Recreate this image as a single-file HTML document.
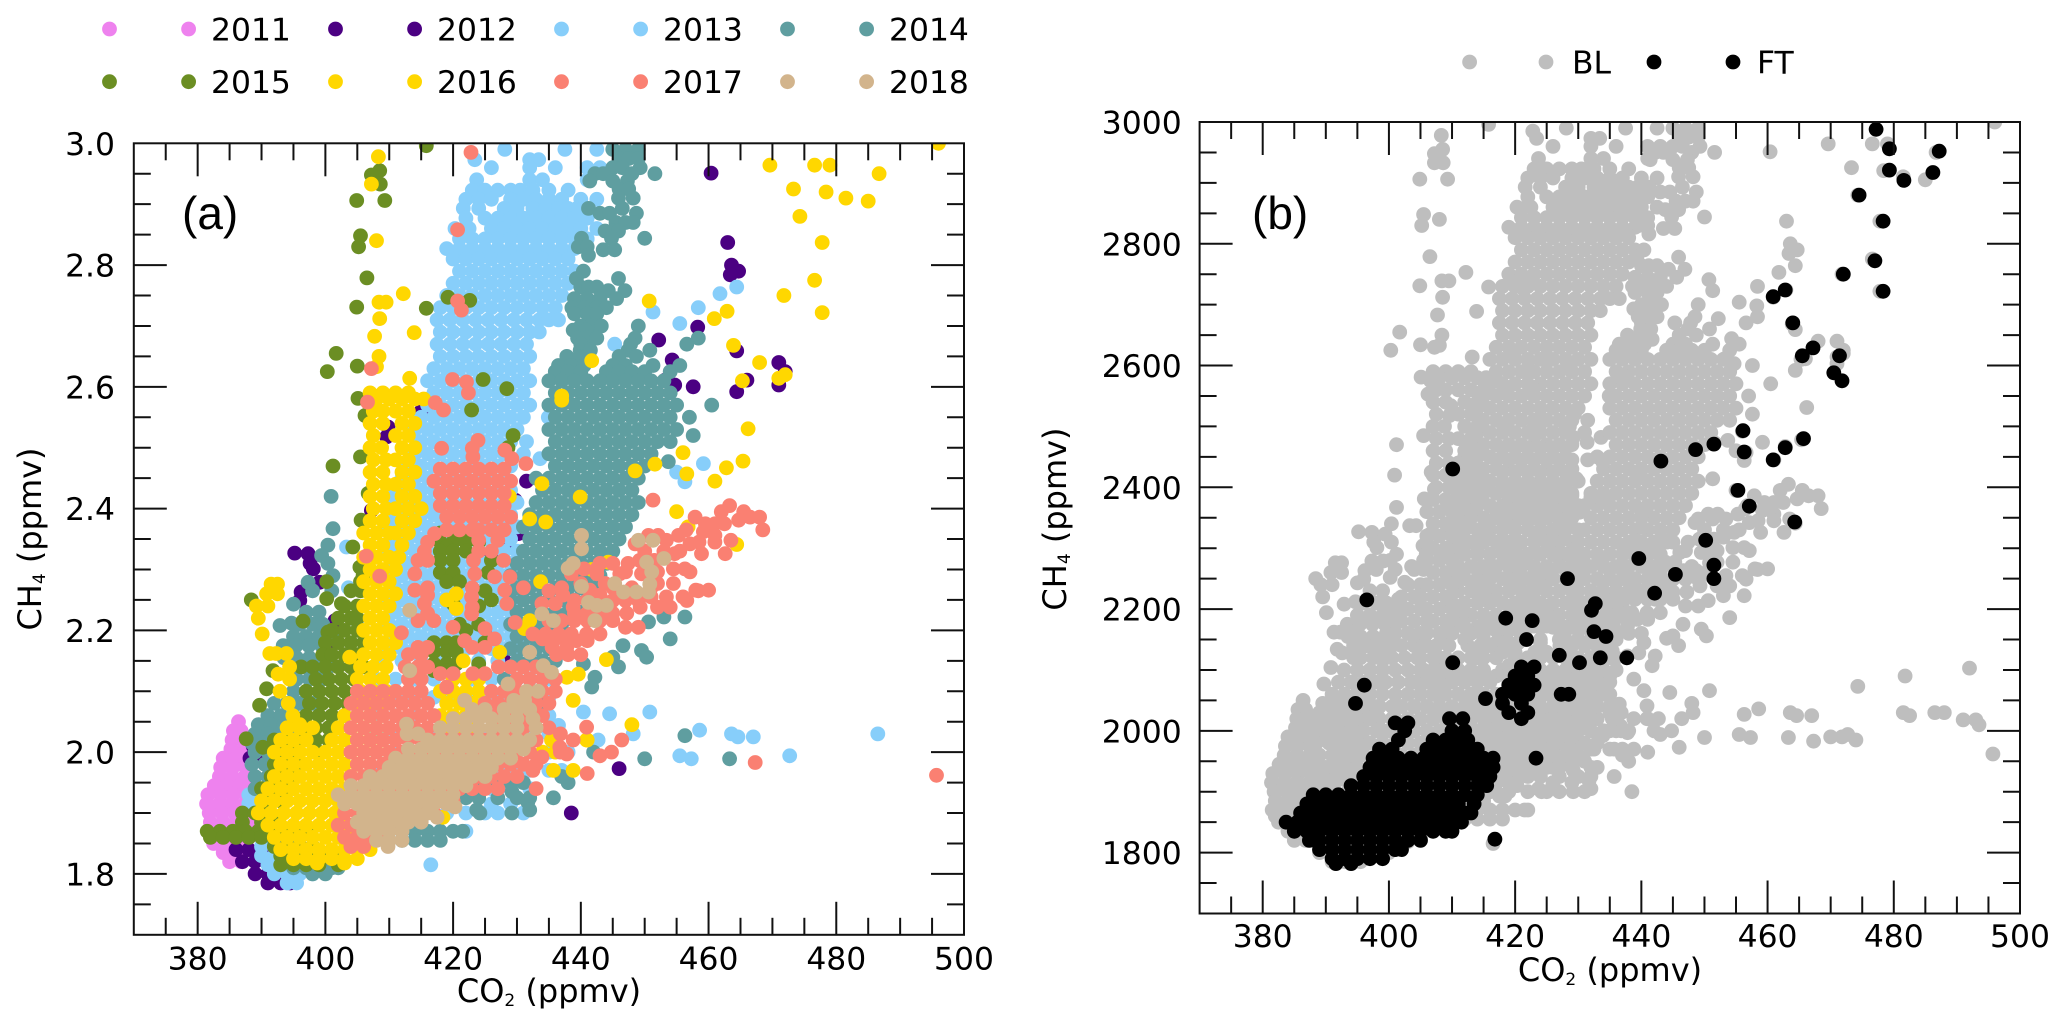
<!DOCTYPE html>
<html lang="en">
<head>
<meta charset="utf-8">
<title>CH4 versus CO2 scatter plots</title>
<style>
html,body{margin:0;padding:0;background:#fff;}
svg{display:block;}
text{font-family:"DejaVu Sans","Liberation Sans",sans-serif;fill:#000;}
</style>
</head>
<body>
<svg id="figure" xmlns="http://www.w3.org/2000/svg" width="2067" height="1029" viewBox="0 0 2067 1029">
<defs>
<clipPath id="clip-a"><rect x="133.8" y="143.3" width="830.2" height="791.5"/></clipPath>
<clipPath id="clip-b"><rect x="1199.6" y="122" width="820.4" height="791.5"/></clipPath>
</defs>
</svg>
<script>
// Each row is [CH4 in ppbv, CO2 in ppmv, CO2 in ppmv, ...]
const years = ['2011','2012','2013','2014','2015','2016','2017','2018'];
const yearColors = ['#EE82EE','#4B0082','#87CEFA','#5F9EA0','#6B8E23','#FFD700','#FA8072','#D2B48C'];
const xTicks = [380,400,420,440,460,480,500];
const yTicksA = ['1.8','2.0','2.2','2.4','2.6','2.8','3.0'];
const yTicksB = ['1800','2000','2200','2400','2600','2800','3000'];

const s2011 = [[2050,386.4],[2035,385.6,386.8],[2020,385.4,387],[2005,385.2,387.2],[1990,384,386,387.5],[1975,383.6,385.5,387.5],[1960,383.4,385.4,387.4],[1945,382.6,384.6,386.6,388.4],[1930,381.6,383.6,385.6,387.6,389],[1915,381.4,383.4,385.4,387.4,389],[1900,381.8,383.8,385.8,387.8],[1885,382,384,386,388],[1870,382.5,384.5,386.5],[1850,382.5,384.5,386.5],[1835,384,386],[1820,385,386.8]];

const s2012 = [[2951,460.4],[2837,463],[2800,463.6],[2790,464.7],[2784,463.4],[2698,458.3],[2677,452.2],[2659,464.4],[2644,454.3],[2640,471],[2625,472],[2611,453.2,466],[2603,454.7,471],[2600,457.6],[2592,464.4],[2560,415],[2534,409.8],[2518,409.6],[2445,431.5],[2414,429.7],[2397,407.2],[2359,430.2],[2337,428.4],[2327,395.2],[2326,397.3,426],[2310,397.6,417.4],[2301,398.1],[2279,399.1],[2263,396.2],[2249,396],[2216,401.5],[2200,399.6,425],[2180,401,420],[2150,428],[2120,432],[2090,427],[2030,389.4],[2010,388.7,390],[1990,388.2,390],[1973,446],[1900,438.5],[1860,386,388,390],[1840,386,388,390,392],[1820,387,389,391,393],[1800,389,391,393,395],[1785,391,393,394.5]];

const s2013 = [[2990,428.1,437.5,442.5],[2973,423.4,432,433.4],[2960,426,432,436,441,443],[2940,423.7,432,434,441],[2923,423,425,427,429,430.5,432.5,435,438],[2908,422,424,426,429,431,433,435,437,440,442.5],[2893,421.6,424,428,430,432.5,434.5,436.5,438,439.4,440.4],[2877,422,425,427,429,431,433,435,437,439,441],[2860,420.3,422.5,426,428,430,432,434,436,438,440,442.5],[2843,421,423,425,427,429,431,433,435,437,439,441],[2827,419,421,423,425,427,429,431,433,435,437,439],
[2810,420,422,424,426,428,430,432,434,436,438],[2790,421,423,425,427,429,431,433,435,437,439],[2770,420,422,424,426,428,430,432,434,436,438],[2764,464.4],[2753,461.8],[2750,419,421,423,425,427,429,431,433,435,437],[2730,418,420,422,424,426,428,430,432,434,436,458.4],[2723,451.3],[2710,417.5,419.5,421.5,423.5,425.5,427.5,429.5,431.5,433.5,435,436.5],[2704,455.5],[2690,418,420,422,424,426,428,430,432,433.5],[2670,417.5,419.5,421.5,423.5,425.5,427.5,429.5,431.5,445.3],[2650,418,420,422,424,426,428,430,432],[2630,417,419,421,423,425,427,429,431],[2610,416,418,420,422,424,426,428,430,432],[2590,417,419,421,423,425,427,429,431],[2570,416,418,420,422,424,426,428,430,432],[2550,415,417,419,421,423,425,427,429,431,434.9],[2530,414,416,418,420,422,424,426,428,430],[2510,415,417,419,421,423,425,427,429,431.5],[2490,414,416,418,420,422,424,426,428,431],[2482,433.6],[2474,459.2],[2470,413,415,417,419,421,423,425,427,429],[2460,455],[2450,412,414,416,418,420,422,424,426,428],[2444,456.3],[2430,411,413,415,417,419,421,423,425,427,429],[2410,410,412,414,416,418,420,422,424,426,428,430],[2390,411,413,415,417,419,421,423,425,427,429],[2370,410,412,414,416,418,420,422,424,426,428,430],[2350,411,413,415,417,419,421,423,425,427,429],[2337,403.3],[2330,410,412,414,416,418,420,422,424,426,428,430],[2310,411,413,415,417,419,421,423,425,427,429],[2290,410,412,414,416,418,420,422,424,426,428,430],[2270,403.6,411,413,415,417,419,421,423,425,427,429],[2250,410,412,414,416,418,420,422,424,426,428,430],[2230,411,413,415,417,419,421,423,425,427,429],[2216,404.9],[2210,410,412,414,416,418,420,422,424,426,428,430],[2190,411,413,415,417,419,421,423,425,427,429,431],[2175,399.4],[2170,410,412,414,416,418,420,422,424,426,428,430,432],[2150,409,412,415,418,421,424,427,430,433],[2120,408,411,414,417,420,423,426,429,432,435],[2090,408,411,414,417,420,423,426,429,432,435],[2066,440.4,450.8],[2063,444.5],[2060,408,411,414,417,420,423,426,429,432,435],[2044,436.5],[2036,458.6],[2030,408,411,414,417,420,423,426,429,432,435,448.2,486.5,463.6],[2025,464.6,467],[2020,442.7],[2000,408,411,414,417,420,423,426,429,432,435,438],[1994,455.5,472.7],[1989,457.3],[1970,408,411,414,417,420,423,426,429,432,435,437],[1940,408,411,414,417,420,423,426,429,432],[1930,388,390],[1915,388,390,426,429],[1900,410,413,416,419,422,425,427,431],[1870,410,414,418,422],[1845,390,392,394,396],[1830,390,392,394,396,398],[1815,391,393,395,397,399,416.5],[1800,392,394,396,398],[1785,394,395.5]];

const s2014 = [[2990,445,447,449],[2975,446,447.5,449],[2960,445,446.5,449.3],[2950,442.2,443.5,448,451.6],[2938,441.4,445,447.3],[2925,446,447.5],[2910,445.9,448.2],[2893,441.2,446.5],[2885,443,444.5,448.7],[2870,445.5,447,448.2],[2856,443.8,445,445.9],[2844,440.1,444.8,450],[2830,439.6,441],[2825,443.5,445.3],[2816,441.2],[2790,440.4],[2778,439.3,445.9],[2764,440,441.2,442.5],[2758,444.3,446.9],[2745,439,441,443,445.6],[2730,438.6,440.6,442.5,444],[2720,439,441,442.5],[2700,440,441.5,443.2,449],[2693,438.8,440.8],[2680,439.5,441,442.5,448.5,458.4],[2670,440,447.8,456.6],[2660,439.9,441.5,447.4,450.8],[2650,437.8,439.8,446,448.7],[2635,436.5,438.5,440.5,445,447,451.3,455.5],[2625,436,438,440,444,446,448,450,454],[2610,435,437,439,441,443,445,447,449,451,453],[2590,436,438,440,442,444,446,448,450,452,454],[2570,435,437,439,441,443,445,447,449,451,453,455,460.5],[2550,436,438,440,442,444,446,448,450,452,454,457],[2530,435,437,439,441,443,445,447,449,451,453,455],[2520,457.6],[2510,436,438,440,442,444,446,448,450,452,454],[2490,435,437,439,441,443,445,447,449,451],[2477,453.7],[2470,436,438,440,442,444,446,448,450],[2450,433,435,437,439,441,443,445,447,449],[2430,434,436,438,440,442,444,446,448],[2420,400.9],[2410,433,435,437,439,441,443,445,447,449],[2390,432,434,436,438,440,442,444,446,448],[2370,431,433,435,437,439,441,443,445,447],[2367,401.2],[2350,432,434,436,438,440,442,444,446],[2340,400.4],[2330,431,433,435,437,439,441,443,445],[2323,399.4],[2310,400.4,430,432,434,436,438,440,442,444],[2290,401.2,429,431,433,435,437,439,441,443],[2279,397.3],[2270,430,432,434,436,438,440,442],[2265,398,401],[2250,429,431,433,435,437,439,441],[2243,395],[2230,397,399,430,432,434,436,438,440],[2222,456.3,453],[2214,450.6],[2212,394.7],[2208,392.9],[2210,396,398,399.6,429,431,433,435,437],[2190,395,397,399,401,430,432,434,436],[2186,454],[2175,393.4,395.4,397.4,399.4,446.6],[2170,429,431,433,435],[2167,449.5],[2156,450.3,445],[2155,393.5,395.5,397.5,399.5],[2150,430,432,434,436],[2145,440.4],[2140,394.5,396.5,398.5,400.5,445.9],[2123,442.2],[2120,395.5,397.5,399.5,428,430,432,434],[2107,441.7],[2100,395,397,399],[2080,392,394,396,398,433.9],[2060,391,393,395],[2045,389.5,391.5,393.5],[2030,389,391,393,395],[2027,456.3],[2015,388.5,390.5,392.5,394.5],[2000,442,389,391,393],[1989,463.3,450],[1980,388.5,390.5,392.5],[1960,389,391,393,437],[1950,424,426,429,431,438],[1940,389,391,393],[1935,429.2],[1925,427,430,432,424,435.7,422],[1918,431.7],[1905,423.7,432],[1900,424.2,429.2],[1870,412,414,416,418,420,421.5,396],[1855,412,414,416,418,392,394],[1840,393,395,397],[1825,394,396,398,400,402],[1810,395,397,399,401,402],[1800,398,400]];

const s2015 = [[2996,415.8],[2955,408.5],[2948,407.2],[2933,408.6],[2906,404.9,409.3],[2848,405.5],[2830,405.2],[2779,406.5],[2747,419.2],[2742,422.6],[2731,404.9],[2729,415.8],[2655,401.7],[2634,405],[2625,400.3],[2612,424.7],[2597,428.4],[2581,405.1],[2562,422.9],[2553,406.2],[2520,429.4],[2500,428.6],[2485,405.5],[2470,401.2],[2425,406.7],[2381,405.6],[2360,418,420,421.6],[2345,418,420,422,424],[2337,404.3,419],[2330,418,420,422],[2315,418,420,426],[2304,405.4],[2295,418,420,425.5],[2290,405.9],[2280,400.2,405.5,419,421],[2265,404,405.5,425],[2252,400.2],[2250,388.4,426],[2244,402.5,420],[2240,403,405,424],[2220,402,404,405],[2215,396.5],[2210,421,424],[2200,401,403,405,422],[2197,400.4],[2180,400,402,404,406,417,419,420.5,425],[2165,417,419,420.5],[2160,399.6,401,403,405],[2145,417,419,420.5,424],[2140,396.2,398,400,402,404,406,],[2134,391.8,417,419],[2120,398.5,400.5,402.5,404.5],[2104,390.8],[2100,397,399,401,403,405],[2080,397.5,399.5,401.5,403.5],[2077,389.7],[2060,397,399,401,403],[2040,396.5,398.5,400.5,402],[2022,387.6],[2020,392,394,396.5,398.5,400.5],[2008,390.2],[2000,393,395,399],[1980,392,394,396],[1960,391.5,393.5,395],[1940,390,391.5,393.5],[1920,391,393],[1900,387,389,391],[1885,387,390,392],[1870,381.5,383.5,385.5,387.5,389.5,391.5,393.5,395.5,397],[1860,382,384,386,388,390,392,394,396],[1845,392,394,396,398],[1830,393,395,397,399,401],[1815,393,395,397,399,402]];

const s2016 = [[3000,496],[2978,408.3],[2964,469.6,476.6,479],[2950,486.7],[2933,407.2],[2925,473.3],[2920,478.4],[2910,481.5],[2905,485],[2880,474.3],[2840,408],[2837,477.8],[2775,476.6],[2753,412.2],[2750,471.8],[2741,450.7],[2739,408.4,409.5],[2724,462.9],[2722,477.8],[2712,408.5,460.9],[2689,413.9],[2683,407.7],[2668,463.9],[2650,408.4],[2643,441.7],[2640,468],[2633,408],[2620,472],[2614,413.2,471],[2610,465.3],[2590,407,409,411,413],[2585,437],[2580,415.4,408,410,412,414],[2578,437],[2560,407.5,409,411,413],[2540,407,409,412,414],[2531,466.2],[2520,407.5,411,413],[2500,407,408.8,412,414],[2492,456],[2480,407.5,409.5,411,413],[2478,465.4],[2473,451.6],[2467,462.8],[2462,448.5],[2460,407,409,412,414],[2457,456.6],[2445,461],[2441,433.9],[2440,407.5,409.5,411,413],[2420,407,409,412,414,428.8],[2419,439.9],[2400,407.5,409.5,411,413,415],[2395,455],[2383,432],[2380,407,409,412,414],[2378,434.5],[2370,456.8],[2360,406,408,410,411,413],[2341,464.4],[2340,407,409,412],[2320,406,408,410,411.5],[2312,444.3],[2300,407,409,441.7,411],[2280,406,408,410,433.7],[2276,391.5,392.5],[2260,407,409,411,390.8,392.5,420.5],[2250,419],[2240,406,408,410,389.2,391],[2236,420.5],[2220,407,409,389.5],[2216,432],[2203,431.2],[2200,406,408,410],[2194,390.1],[2180,407,409,411],[2164,427.3],[2162,391.3,392.3,393.9],[2160,406,408,410],[2156,403.8],[2152,444],[2150,421.6],[2140,394.4,405.5,407.5,409.5],[2128,392.6,439.6],[2123,437.8],[2120,405,407,409,394.4,420,422,424],[2100,392.9,405.5,407.5,409.5,418,420,422,424],[2085,438.8],[2080,394.2,404.5,406.5,408.5,419,421,423],[2060,394.9,403,405,407,418,420,422,424],[2045,396,448],[2040,394,396,398,402,404,406,408,419,421,423],[2020,393,395,397,401,403,405,407,409,435.4,440.9,441],[2000,392,394,396,398,400,402,404,406,408,434,436],[1980,393,395,397,399,401,403,405],[1970,435.7,438.8],[1960,392,394,396,398,400,402,404],[1940,391,393,395,397,399,401,403],[1920,390,392,394,396,398,400,402],[1900,389.5,391.5,393.5,395.5,397.5,399.5,401.5],[1893,418.4],[1880,391,393,395,397,399,401,403],[1860,392,394,396,398,400,402,404,406,408],[1840,393,395,397,399,401,403,405,407],[1825,395,397,399,401,403,405],[1818,398.7,403]];

const s2017 = [[2985,422.8],[2858,420.7],[2741,420.7],[2726,421.3],[2630,407.2],[2612,419.9],[2608,422.1],[2590,422.4],[2575,406.6],[2574,417.2],[2562,418.5],[2512,423.9],[2499,418.2,423],[2496,428.1],[2485,423.1],[2482,429.2],[2474,431.4],[2465,418,420,422,424,426,428],[2445,417,419,421,423,425,427,429],[2425,418,420,422,424,426,428],[2414,451.3],[2405,418,420,422,424,426,428,463.3],[2395,462,465.5],[2386,419,421,423,425,427,429,457.9,466.5,468],[2381,464.7],[2375,461,462.5,459.5],[2365,419,421,423,424,426,428,456.5,468.5],[2362,459.2],[2359,417.1],[2356,450.6,452.1,455.3,461],[2348,453.4,424,427,463.5],[2345,461,416,449,458.5],[2342,448.5,457.1],[2330,415.5,450,453,426,424,455.5],[2326,458.9,462.6,454.7],[2322,406.4],[2315,423.2,416,414.5,427.9,449.2,451.5],[2310,445,447.4,443],[2301,456.3,454.5,442.5,440.5],[2296,457.1,447,452],[2293,442.5,423.4,414,446.1,449.5,438.5],[2289,408.5],[2288,426.5,428.9],[2277,443.8,454.5,440,452],[2270,431,416,445,451,423,437,448],[2266,441.4,428.1,414,458,460],[2265,458.4,435],[2258,437.2,416,443],[2255,453.4,456,451,422.9],[2249,456.6,445,447,449,443,441,439],[2244,433.9,428.4,436,415.5],[2238,438.8,449.3,452,454,423],[2228,447.2,445,443,441,439,416],[2227,422.9],[2216,445,443,441,439,437,435,417,414.5],[2213,429.7],[2205,420,447,449],[2203,425],[2194,432.5,434.5,436.5,438.5,440.9,443],[2196,411.9],[2186,426.5,434,436,438],[2183,421.8,439.3,441],[2172,423,425,437.8,435.5,414.5,416],[2160,413,415,436.2,438,440],[2140,427.1,429,431,433,412.5,414.5,416],[2129,418,420,423.1,425],[2120,430,432,434,436,413,415],[2107,419],[2100,405,407,409,411,413,415,426,428,430,432,434,436],[2080,404,406,408,410,412,414,416,425,427,429,431,433,435],[2060,405,407,409,411,413,415,417,424,426,428,430,432,434],[2041,440.9],[2040,404,406,408,410,412,414,416,418,427,429,431,433,435],[2030,436.8],[2020,405,407,409,411,413,415,417,419,421,423,425,427,429,431,433,446.4,438.8],[2008,436.7],[2000,404,406,408,410,412,414,416,418,420,422,424,426,428,430,432,444.8,436.8],[1997,437.8],[1994,443],[1992,433.9],[1983,467.3],[1980,405,407,409,411,413,415,417,419,421,423,425,427,429,431,433],[1970,432.5],[1965,441],[1962,495.7],[1960,404,406,408,410,412,414,416,418,420,422,424,426,428,430],[1940,405,407,409,411,413,415,417,419,421,423,425,427,433],[1920,404,406,408,410,412,414,416,418,420],[1900,403,405,407,409,411,413,415,417],[1880,402,404,406,408,410,412],[1860,403,405,407,409],[1845,404,406]];

const s2018 = [[2356,440.1],[2348,449,451.3],[2334,440.1],[2318,453],[2312,450.3],[2310,438.8],[2302,438],[2296,451.1],[2277,445.3],[2276,450.8],[2272,440.1],[2263,448.7,446.7,450.6],[2246,441.2],[2241,444,442.5],[2233,413.2],[2227,433.9],[2216,435.7,442.2],[2164,432],[2142,434.1],[2134,413.2],[2131,435.4],[2112,428.6],[2100,433.3,431.5],[2085,421.8,431.2,429.5],[2070,423,425,428,430,432],[2055,420,422,424,426,428,430,432.5],[2046,412.7],[2040,418,420,422,424,426,428,430,433],[2030,412.8,414.5],[2020,416,418,420,422,424,426,428,430,432],[2005,413,415,417,419,421,423,425,427,429,431],[1990,411,413,415,417,419,421,423,425,427,429],[1975,410,412,414,416,418,420,422,424,426],[1960,407,409,411,413,415,417,419,421,423,425],[1945,404,406,408,410,412,414,416,418,420,422],[1930,402,404,406,408,410,412,414,416,418,420],[1915,403,405,407,409,411,413,415,417,419],[1910,420.3],[1900,406,408,410,412,414,416],[1893,417.5],[1885,405,407,409,411,413,415],[1870,406,408,410,412],[1855,408,410,412],[1845,409.8]];

// Boundary-layer points only visible in panel (b)
const sBLextra = [[2103,492],[2090,481.8],[2073,474.3],[2030,481.5,488],[2025,482.5],[2018,491,493],[2010,493.5],[1990,470,471.8],[1985,474]];

const sFT = [[2988,477.2],[2956,479.3],[2952,487.2],[2921,479.3],[2917,486.2],[2904,481.6],[2880,474.5],[2837,478.3],[2772,477],[2750,472],[2724,462.8],[2722,478.3],[2713,460.9],[2670,464],[2629,467.2],[2616,465.5,471.4],[2588,470.5],[2575,471.8],[2493,456.1],[2480,465.7],[2471,451.5],[2465,462.8],[2462,448.6],[2458,456.3],[2445,460.9],[2443,443.1],[2430,410.1],[2395,455.3],[2369,457.1],[2343,464.3],[2313,450.2],[2283,439.6],[2272,451.5],[2257,445.4],[2250,428.3,451.5],[2226,442.1],[2215,396.5],[2209,432.7],[2198,432.1],[2185,418.5],[2181,422.7],[2163,432.5],[2155,434.4],[2150,421.8],[2124,427],[2120,433.5,437.7],[2112,410.1,430.2],[2105,421,423],[2090,420,422],[2075,396.1,419,421,423],[2060,418,420,422,427.3,428.5],[2053,415.3],[2045,394.7,418,421],[2030,419,422],[2020,409.6,411.7,421],[2013,401,403],[2000,402.5,410,412],[1985,401.5,407,409,411,412.5],[1970,398.5,400.5,406,408,410,412,414],[1955,397.5,399.5,401.5,403.5,405.5,407.5,409.5,411.5,413.5,415,416.5,423.3],[1940,397,399,401,403,405,407,409,411,413,415,416.5],[1925,396,398,400,402,404,406,408,410,412,414,416],[1910,394,396,398,400,402,404,406,408,410,412,414,415.5],[1895,388,390,392,394,396,398,400,402,404,406,408,410,412,414],[1880,387,389,391,393,395,397,399,401,403,405,407,409,411,413.5],[1865,386,388,390,392,394,396,398,400,402,404,406,408,410,412,413],[1850,383.7,385.5,387.5,389.5,391.5,393.5,395.5,397.5,399.5,401.5,403.5,405.5,407.5,409.5,411.5],[1835,385,387,389,391,393,395,397,399,401,403,405,407,409,410],[1822,416.8],[1820,387.4,389,391,393,395,397,399,401,403,405],[1805,389,391,393,395,397,399,401,402],[1790,391,393,395,397,399],[1782,391.6,394]];

const allYearRows = [s2011,s2012,s2013,s2014,s2015,s2016,s2017,s2018];

const svg = document.getElementById('figure');
const NS = 'http://www.w3.org/2000/svg';
const MARKER_R = 7.4;
const panelA = {left:133.8,right:964,top:143.3,bottom:934.8};
const panelB = {left:1199.6,right:2020,top:122,bottom:913.5};

function scaleX(p,v){return p.left+(v-370)/130*(p.right-p.left);}
function scaleY(p,ppb){return p.top+(3000-ppb)/1300*(p.bottom-p.top);}

function make(tag,attrs,parent){
  const el=document.createElementNS(NS,tag);
  for(const k in attrs){el.setAttribute(k,attrs[k]);}
  parent.appendChild(el);
  return el;
}
function drawRows(parent,panel,rows,color,name){
  rows.forEach(function(row){
    row.slice(1).forEach(function(co2){
      const c=make('circle',{cx:scaleX(panel,co2).toFixed(1),cy:scaleY(panel,row[0]).toFixed(1),r:MARKER_R,fill:color},parent);
      
      
    });
  });
}
function line(parent,x1,y1,x2,y2,name){
  const l=make('line',{x1:x1,y1:y1,x2:x2,y2:y2,stroke:'#111','stroke-width':2},parent);
  
  
}
function label(parent,str,x,y,anchor,size,name){
  const t=make('text',{x:x,y:y,'text-anchor':anchor,'font-size':size},parent);
  t.textContent=str;
  
  
  return t;
}
function panelLetter(parent,str,x,name){
  const t=label(parent,str,x,229,'start',46,name);
  t.setAttribute('style','font-family:"Liberation Sans",sans-serif');
}
function axisTitle(parent,main,sub,x,y,rotate,name){
  const t=make('text',{x:x,y:y,'text-anchor':'middle','font-size':32},parent);
  if(rotate){t.setAttribute('transform','rotate(-90 '+x+' '+y+')');}
  
  
  t.appendChild(document.createTextNode(main));
  const s=make('tspan',{'font-size':17,dy:4},t);
  s.textContent=sub;
  const r=make('tspan',{dy:-4},t);
  r.textContent=' (ppmv)';
}
function drawAxes(parent,panel,yLabels,yDivisor,tickEnd,xBase){
  const g=make('g',{},parent);
  
  
  make('rect',{x:panel.left,y:panel.top,width:panel.right-panel.left,height:panel.bottom-panel.top,fill:'none',stroke:'#111','stroke-width':2},g);
  for(let v=375;v<500;v+=5){
    const px=scaleX(panel,v);
    const len=(v%20===0)?33:17;
    line(g,px,panel.bottom,px,panel.bottom-len,'x-tick');
    line(g,px,panel.top,px,panel.top+len,'x-tick-top');
  }
  for(let v=1750;v<3000;v+=50){
    const py=scaleY(panel,v);
    const len=(v%200===0)?33:17;
    line(g,panel.left,py,panel.left+len,py,'y-tick');
    line(g,panel.right,py,panel.right-len,py,'y-tick-right');
  }
  xTicks.forEach(function(v){
    label(parent,String(v),scaleX(panel,v),xBase,'middle',31.4,'x-tick-label');
  });
  yLabels.forEach(function(s){
    const ppb=Number(s)*yDivisor;
    label(parent,s,tickEnd,scaleY(panel,ppb)+11.5,'end',31.4,'y-tick-label');
  });
}
function legendEntry(parent,x1,x2,tx,y,color,text){
  const g=make('g',{},parent);
  
  
  make('circle',{cx:x1,cy:y,r:MARKER_R,fill:color},g);
  make('circle',{cx:x2,cy:y,r:MARKER_R,fill:color},g);
  label(g,text,tx,y+11.5,'start',31.4,'legend-label');
}

// Panel (a)
const gA=make('g',{},svg);


const ptsA=make('g',{'clip-path':'url(#clip-a)'},gA);


allYearRows.forEach(function(rows,i){
  drawRows(ptsA,panelA,rows,yearColors[i],'point-'+years[i]);
});
drawAxes(gA,panelA,yTicksA,1000,115,969.5);
panelLetter(gA,'(a)',182,'panel-a-label');
axisTitle(gA,'CO','2',549,1002,false,'x-axis-title-a');
axisTitle(gA,'CH','4',41,539,true,'y-axis-title-a');
years.forEach(function(yr,i){
  const col=i%4, row=Math.floor(i/4);
  legendEntry(gA,109.5+col*226,188.6+col*226,211+col*226,row===0?29:81.7,yearColors[i],yr);
});

// Panel (b) - the grey cloud is all years combined
const gB=make('g',{},svg);


const ptsB=make('g',{'clip-path':'url(#clip-b)'},gB);


allYearRows.forEach(function(rows){
  drawRows(ptsB,panelB,rows,'#BEBEBE','point-bl');
});
drawRows(ptsB,panelB,sBLextra,'#BEBEBE','point-bl');
drawRows(ptsB,panelB,sFT,'#000000','point-ft');
drawAxes(gB,panelB,yTicksB,1,1181.7,947);
panelLetter(gB,'(b)',1252,'panel-b-label');
axisTitle(gB,'CO','2',1610,981,false,'x-axis-title-b');
axisTitle(gB,'CH','4',1066,519,true,'y-axis-title-b');
legendEntry(gB,1469.6,1546,1572,62,'#BEBEBE','BL');
legendEntry(gB,1654,1733,1757,62,'#000000','FT');
</script>
</body>
</html>
